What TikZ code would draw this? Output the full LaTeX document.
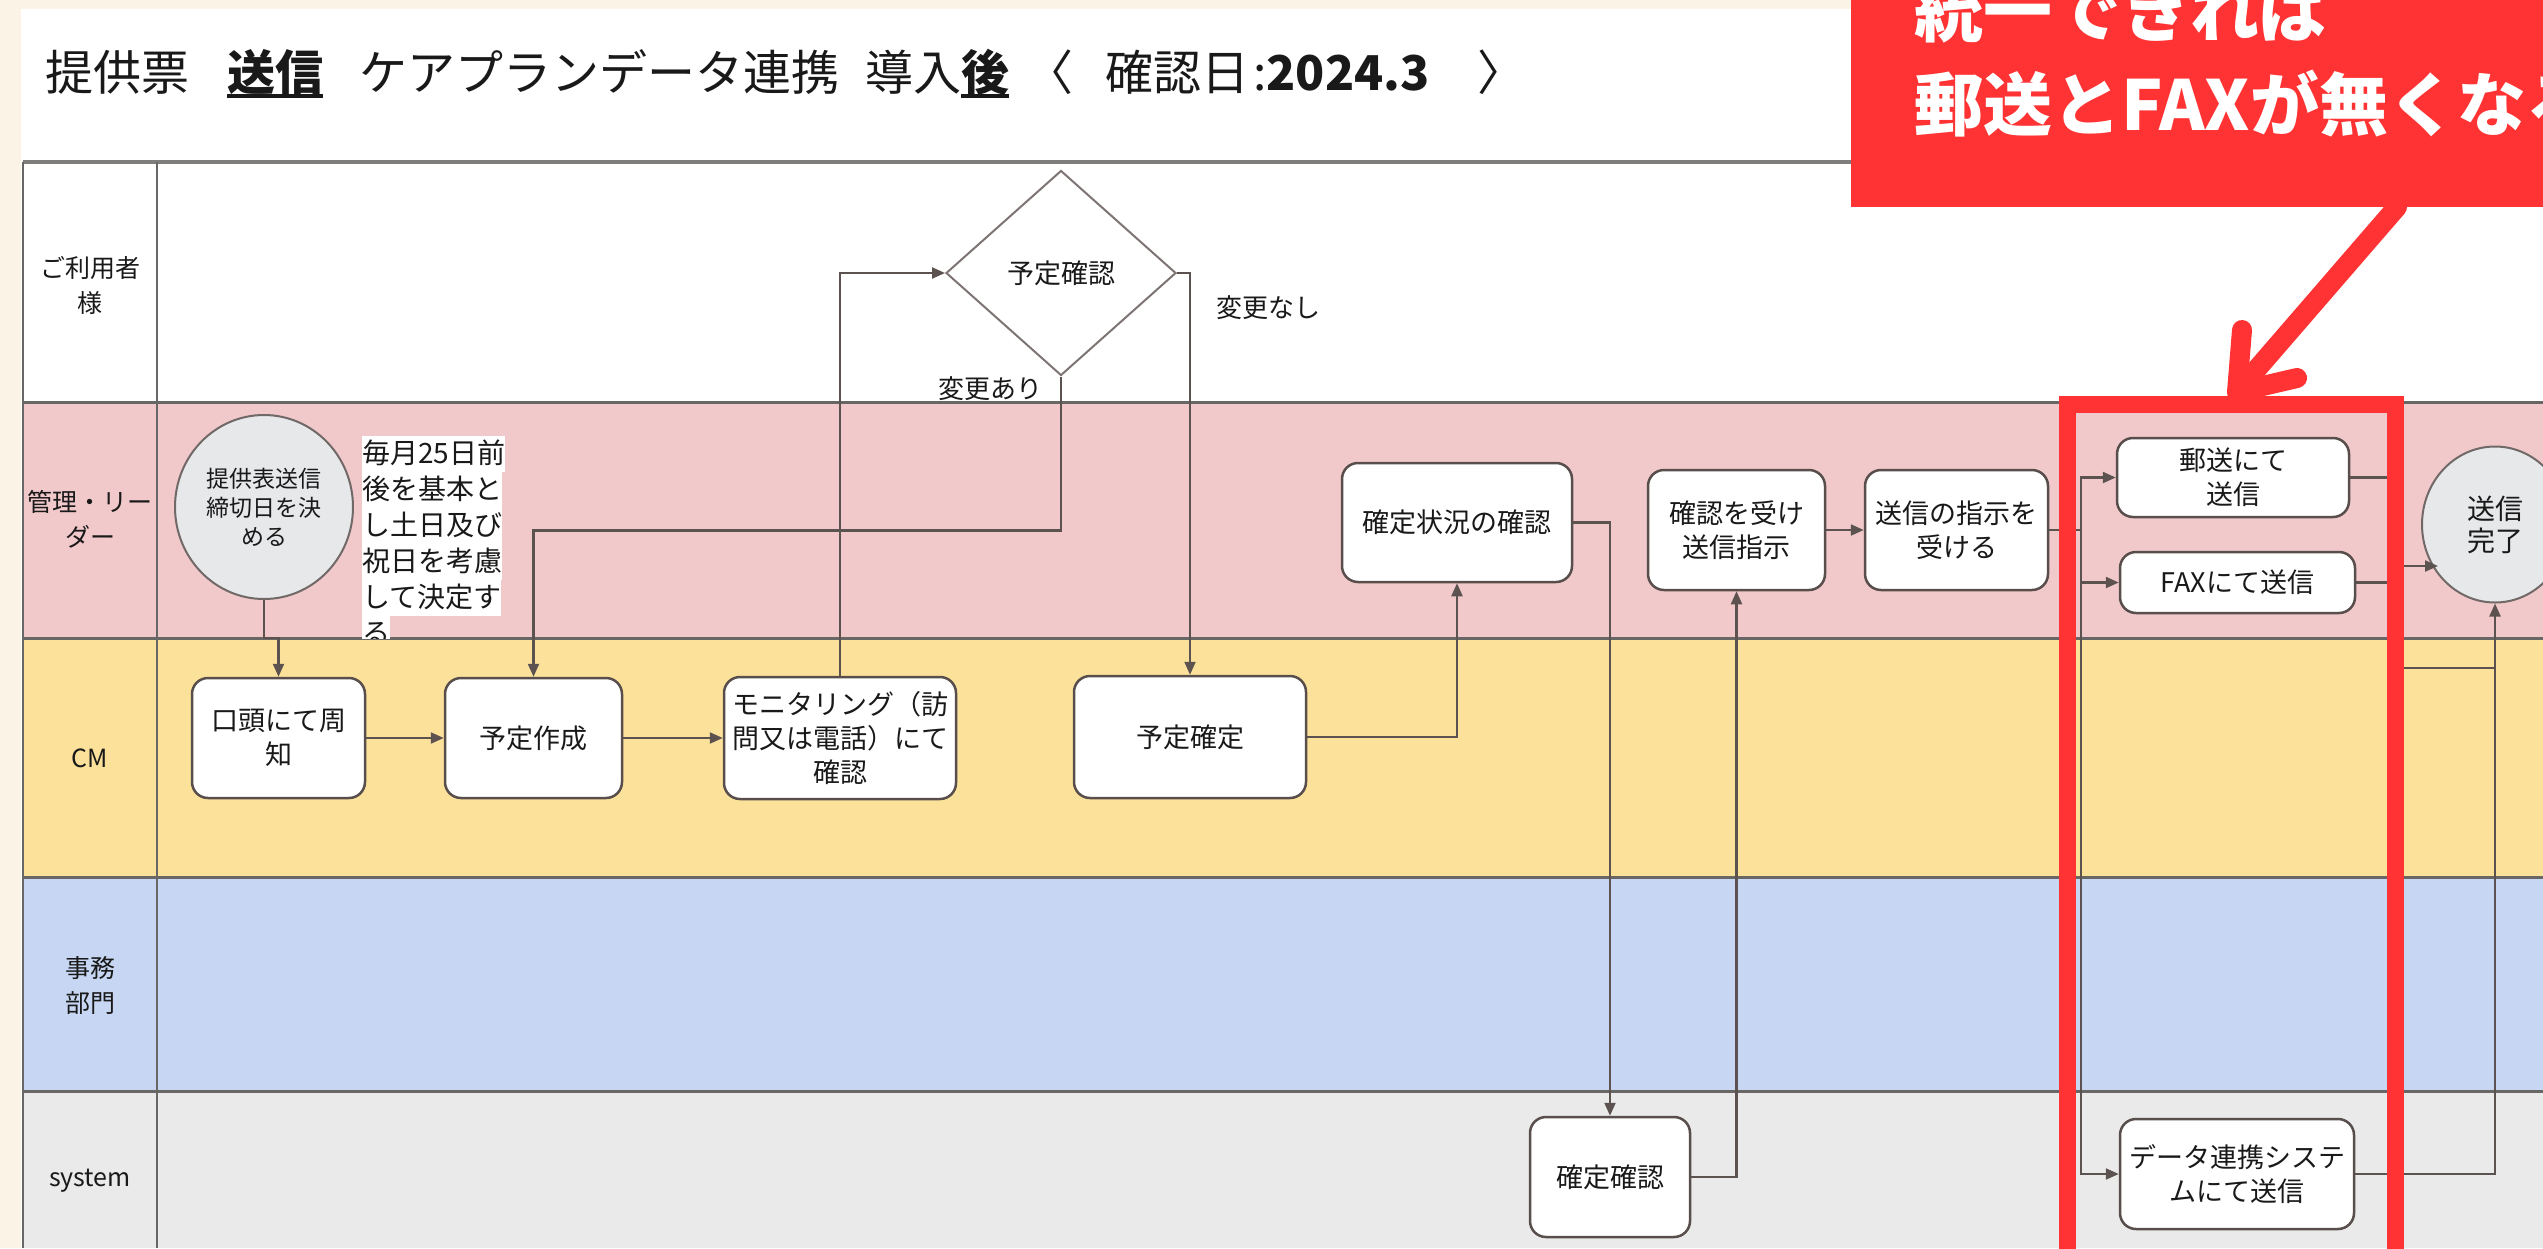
\documentclass[tikz,border=0pt]{standalone}
\usepackage{fontspec}
\setmainfont{Noto Sans CJK JP}
\usetikzlibrary{arrows.meta,shapes.geometric}
\definecolor{cream}{RGB}{251,243,229}
\definecolor{lpink}{RGB}{241,201,202}
\definecolor{lyellow}{RGB}{252,225,155}
\definecolor{lblue}{RGB}{199,215,243}
\definecolor{lgray}{RGB}{234,234,234}
\definecolor{circg}{RGB}{231,232,234}
\definecolor{boxc}{RGB}{88,78,76}
\definecolor{connc}{RGB}{92,82,80}
\definecolor{lanec}{RGB}{105,102,102}
\definecolor{calred}{RGB}{255,51,51}
\definecolor{txt}{RGB}{25,25,25}
\newcommand\myul[1]{\setbox0\hbox{#1}\rlap{\rule[-8pt]{\wd0}{4pt}}\box0}
\newcommand\hlline[1]{\colorbox{white}{\rule[-9pt]{0pt}{36pt}#1}}
\setlength\fboxsep{0pt}
\begin{document}
\begin{tikzpicture}[x=1pt,y=-1pt,
  box/.style={draw=boxc, line width=2.5pt, fill=white, rounded corners=16pt, align=center, inner sep=0pt, text=txt, font=\fontsize{27}{34}\selectfont},
  circ/.style={ellipse, draw=boxc!85, line width=2pt, fill=circg, align=center, inner sep=0pt, text=txt},
  lanelab/.style={align=center, inner sep=0pt, text=txt, font=\fontsize{25}{35}\selectfont},
  lbl/.style={inner sep=0pt, text=txt, font=\fontsize{26}{32}\selectfont},
  conn/.style={draw=connc, line width=2.2pt},
  arr/.style={conn, -{Triangle[length=13pt,width=11pt]}},
  laneline/.style={draw=lanec, line width=3pt},
  redline/.style={draw=calred, line width=20pt, line cap=round, line join=round}]
\useasboundingbox (0,0) rectangle (2543,1248);
\clip (0,0) rectangle (2543,1248);
% background
\fill[cream] (0,0) rectangle (2543,1248);
\fill[white] (21,9) rectangle (2543,1248);
% lanes
\fill[lpink] (23,402) rectangle (2543,638);
\fill[lyellow] (23,638) rectangle (2543,877);
\fill[lblue] (23,877) rectangle (2543,1091);
\fill[lgray] (23,1091) rectangle (2543,1248);
\draw[draw=lanec!85, line width=4pt] (23,162) -- (2543,162);
\foreach \yy in {402,638,877,1091} \draw[laneline] (23,\yy) -- (2543,\yy);
\draw[draw=lanec, line width=2pt] (23,162) -- (23,1248);
\draw[draw=lanec, line width=2pt] (157,162) -- (157,1248);
% lane labels
\node[lanelab] (lab1) at (90,285) {ご利用者\\様};
\node[lanelab] (lab2) at (90,519) {管理・リー\\ダー};
\node[lanelab] (lab3) at (90,758) {CM};
\node[lanelab] (lab4) at (90,985) {事務\\部門};
\node[lanelab] (lab5) at (90,1181) {system};
% title
\node[anchor=base west, font=\fontsize{48}{58}\selectfont, text=txt, inner sep=0pt] (title) at (45,90)
  {提供票\hspace{38pt}\textbf{\myul{送信}}\hspace{36pt}ケアプランデータ連携\hspace{26pt}導入\textbf{\myul{後}}\hspace{16pt}〈\hspace{32pt}確認日\hspace{4pt}:\textbf{2024.3}\hspace{48pt}〉};
% nodes
\node[circ, minimum width=178, minimum height=184, font=\fontsize{23}{29}\selectfont] (teikyo) at (264,507) {提供表送信\\締切日を決\\める};
\begin{scope}
\clip (0,0) rectangle (2543,638);
\node[anchor=north west, align=left, inner sep=0pt, text=txt, font=\fontsize{28}{36}\selectfont] (note) at (362,436)
  {\hlline{毎月25日前}\\\hlline{後を基本と}\\\hlline{し土日及び}\\\hlline{祝日を考慮}\\\hlline{して決定す}\\\hlline{る}};
\end{scope}
\node[box, minimum width=173, minimum height=120] (kotou) at (278.5,738) {口頭にて周\\知};
\node[box, minimum width=177, minimum height=120] (yotei) at (533.5,738) {予定作成};
\node[box, minimum width=232, minimum height=122] (moni) at (840,738) {モニタリング（訪\\問又は電話）にて\\確認};
\node[diamond, draw=connc!80, line width=2pt, fill=white, minimum width=230, minimum height=205, inner sep=0pt, text=txt, font=\fontsize{27}{34}\selectfont] (yesno) at (1061,273) {予定確認};
\node[lbl] (ari) at (990,389) {変更あり};
\node[lbl] (nashi) at (1268,308) {変更なし};
\node[box, minimum width=232, minimum height=122] (kakutei) at (1190,737) {予定確定};
\node[box, minimum width=230, minimum height=119] (joukyou) at (1457,522.5) {確定状況の確認};
\node[box, minimum width=160, minimum height=120] (kakunin) at (1610,1177) {確定確認};
\node[box, minimum width=177, minimum height=120] (ukeshiji) at (1736.5,530) {確認を受け\\送信指示};
\node[box, minimum width=183, minimum height=120] (shijiuke) at (1956.5,530) {送信の指示を\\受ける};
\node[box, minimum width=232, minimum height=79] (yusou) at (2233,477.5) {郵送にて\\送信};
\node[box, minimum width=235, minimum height=61] (fax) at (2237.5,582.5) {FAXにて送信};
\node[box, minimum width=234, minimum height=110] (data) at (2237,1174) {データ連携システ\\ムにて送信};
\node[circ, minimum width=146, minimum height=156, font=\fontsize{28}{32}\selectfont] (kanryo) at (2495,524.5) {送信\\完了};
% connectors
\coordinate (b2) at (0,638);
\draw[arr] (teikyo.south) -- (teikyo.south |- b2) -| (kotou.north);
\draw[arr] (kotou.east) -- (yotei.west);
\draw[arr] (yotei.east) -- (moni.west);
\draw[arr] (moni.north) |- (yesno.west);
\draw[arr] (yesno.south) -- ++(0,154) -| (yotei.north);
\draw[arr] (yesno.east) -| (kakutei.north);
\draw[arr] (kakutei.east) -| (joukyou.south);
\draw[arr] (joukyou.east) -| (kakunin.north);
\draw[arr] (kakunin.east) -| (ukeshiji.south);
\draw[arr] (ukeshiji.east) -- (shijiuke.west);
\coordinate (jL) at (2081,530);
\draw[conn] (shijiuke.east) -- (jL);
\draw[arr] (jL) |- (yusou.west);
\draw[arr] (jL) |- (fax.west);
\draw[arr] (jL) |- (data.west);
\coordinate (jR) at (2388,668);
\coordinate (jM) at (2388,566);
\coordinate (kin) at (2438,566);
\draw[conn] (yusou.east) -- (yusou.east -| jR);
\draw[conn] (fax.east) -- (fax.east -| jR);
\draw[conn] (yusou.east -| jR) -- (jR) -- (jR -| kanryo.south);
\draw[arr] (jM) -- (kin);
\draw[arr] (data.east) -| (kanryo.south);
% red highlight frame
\node[draw=calred, line width=17pt, minimum width=328, minimum height=857, inner sep=0pt] (frame) at (2231,833) {};
% callout
\node[fill=calred, minimum width=692, minimum height=207, anchor=north west, inner sep=0pt] (callout) at (1851,0) {};
\node[anchor=base west, text=white, font=\bfseries\fontsize{69}{80}\selectfont, inner sep=0pt] (ct1) at (1914,36) {統一できれば};
\node[anchor=base west, text=white, font=\bfseries\fontsize{69}{80}\selectfont, inner sep=0pt] (ct2) at (1914,130) {郵送とFAXが無くなる};
\coordinate (arrS) at (2397,207);
\coordinate (arrE) at (2237,392);
\draw[redline] (arrS) -- (arrE);
\draw[redline] (2242,330) -- (arrE) -- (2297,378);
\end{tikzpicture}
\end{document}
